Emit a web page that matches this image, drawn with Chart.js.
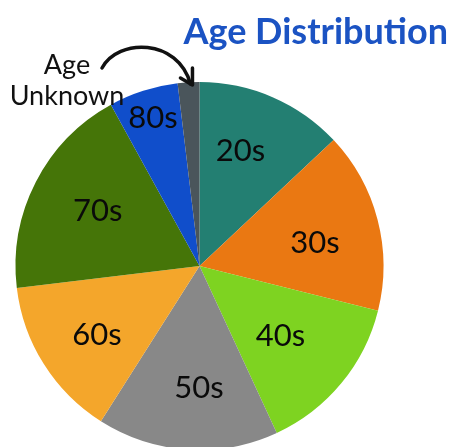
<!DOCTYPE html>
<html>
<head>
<meta charset="utf-8">
<script src="https://cdn.jsdelivr.net/npm/chart.js@4/dist/chart.umd.min.js"></script>
<style>
  html, body { margin: 0; padding: 0; background: #fff; overflow: hidden; }
  #wrap { position: relative; width: 451px; height: 451px; }
</style>
</head>
<body>
<div id="wrap"><canvas id="myChart"></canvas></div>
<script>
// データ（円グラフの角度から読み取った割合 %）
const categories = ['20s', '30s', '40s', '50s', '60s', '70s', '80s', 'Age Unknown'];
const shares = [13.0, 15.9, 14.2, 15.9, 14.1, 18.9, 6.1, 1.9];
const sliceColors = ['#237F72', '#EA7812', '#7ED321', '#888888', '#F4A62B', '#457508', '#104ECB', '#4A555B'];
const titleText = 'Age Distribution';
const noteText = ['Age', 'Unknown'];

// ラベルの位置調整（半径に対する割合と角度のずれ）
const labelRadius = [0.67, 0.64, 0.58, 0.66, 0.67, 0.63, 0.85];
const labelNudge = [-4, 3, 1, -3.5, -1.5, 1.5, 0.5];

const labelPlugin = {
    id: 'sliceLabels',
    afterDatasetsDraw(chart) {
        const ctx = chart.ctx;
        const arcs = chart.getDatasetMeta(0).data;
        ctx.save();
        ctx.fillStyle = '#0a0a0a';
        ctx.font = '31px Lato';
        ctx.textAlign = 'center';
        ctx.textBaseline = 'middle';
        arcs.forEach((arc, i) => {
            if (i >= labelRadius.length) return;
            const mid = (arc.startAngle + arc.endAngle) / 2 + labelNudge[i] * Math.PI / 180;
            const r = arc.outerRadius * labelRadius[i];
            ctx.fillText(categories[i], arc.x + Math.cos(mid) * r, arc.y + Math.sin(mid) * r + 1);
        });

        // タイトル
        ctx.fillStyle = '#1B53C3';
        ctx.font = 'bold 36px Lato';
        ctx.textAlign = 'right';
        ctx.textBaseline = 'alphabetic';
        ctx.fillText(titleText, 448, 44);

        // 「Age Unknown」の注記と矢印
        const last = arcs[arcs.length - 1];
        ctx.fillStyle = '#111';
        ctx.font = '27px Lato';
        ctx.textAlign = 'center';
        ctx.fillText(noteText[0], 67, 74);
        ctx.fillText(noteText[1], 67, 105);

        const tipX = last.x + Math.cos(-Math.PI / 2 - 0.06) * last.outerRadius + 3;
        const tipY = last.y - last.outerRadius;
        ctx.strokeStyle = '#111';
        ctx.lineWidth = 3.5;
        ctx.lineCap = 'round';
        ctx.lineJoin = 'round';
        ctx.beginPath();
        ctx.moveTo(102, 68);
        ctx.bezierCurveTo(118, 38, 178, 38, tipX - 1, tipY + 2);
        ctx.stroke();
        ctx.beginPath();
        ctx.moveTo(tipX + 1, tipY - 14);
        ctx.lineTo(tipX + 1, tipY + 3);
        ctx.lineTo(tipX - 11, tipY - 4);
        ctx.stroke();
        ctx.restore();
    }
};

function drawChart() {
    const ctx = document.getElementById('myChart').getContext('2d');

    const data = {
        labels: categories,
        datasets: [{
            data: shares,
            backgroundColor: sliceColors,
            borderWidth: 0
        }]
    };

    const config = {
        type: 'pie',
        data: data,
        options: {
            responsive: true,
            maintainAspectRatio: false,
            animation: false,
            layout: {
                padding: { left: 15.5, right: 67.5, top: 82, bottom: 1 }
            },
            plugins: {
                legend: { display: false },
                tooltip: { enabled: false }
            }
        },
        plugins: [labelPlugin]
    };

    new Chart(ctx, config);
}

window.onload = drawChart;
</script>
</body>
</html>
